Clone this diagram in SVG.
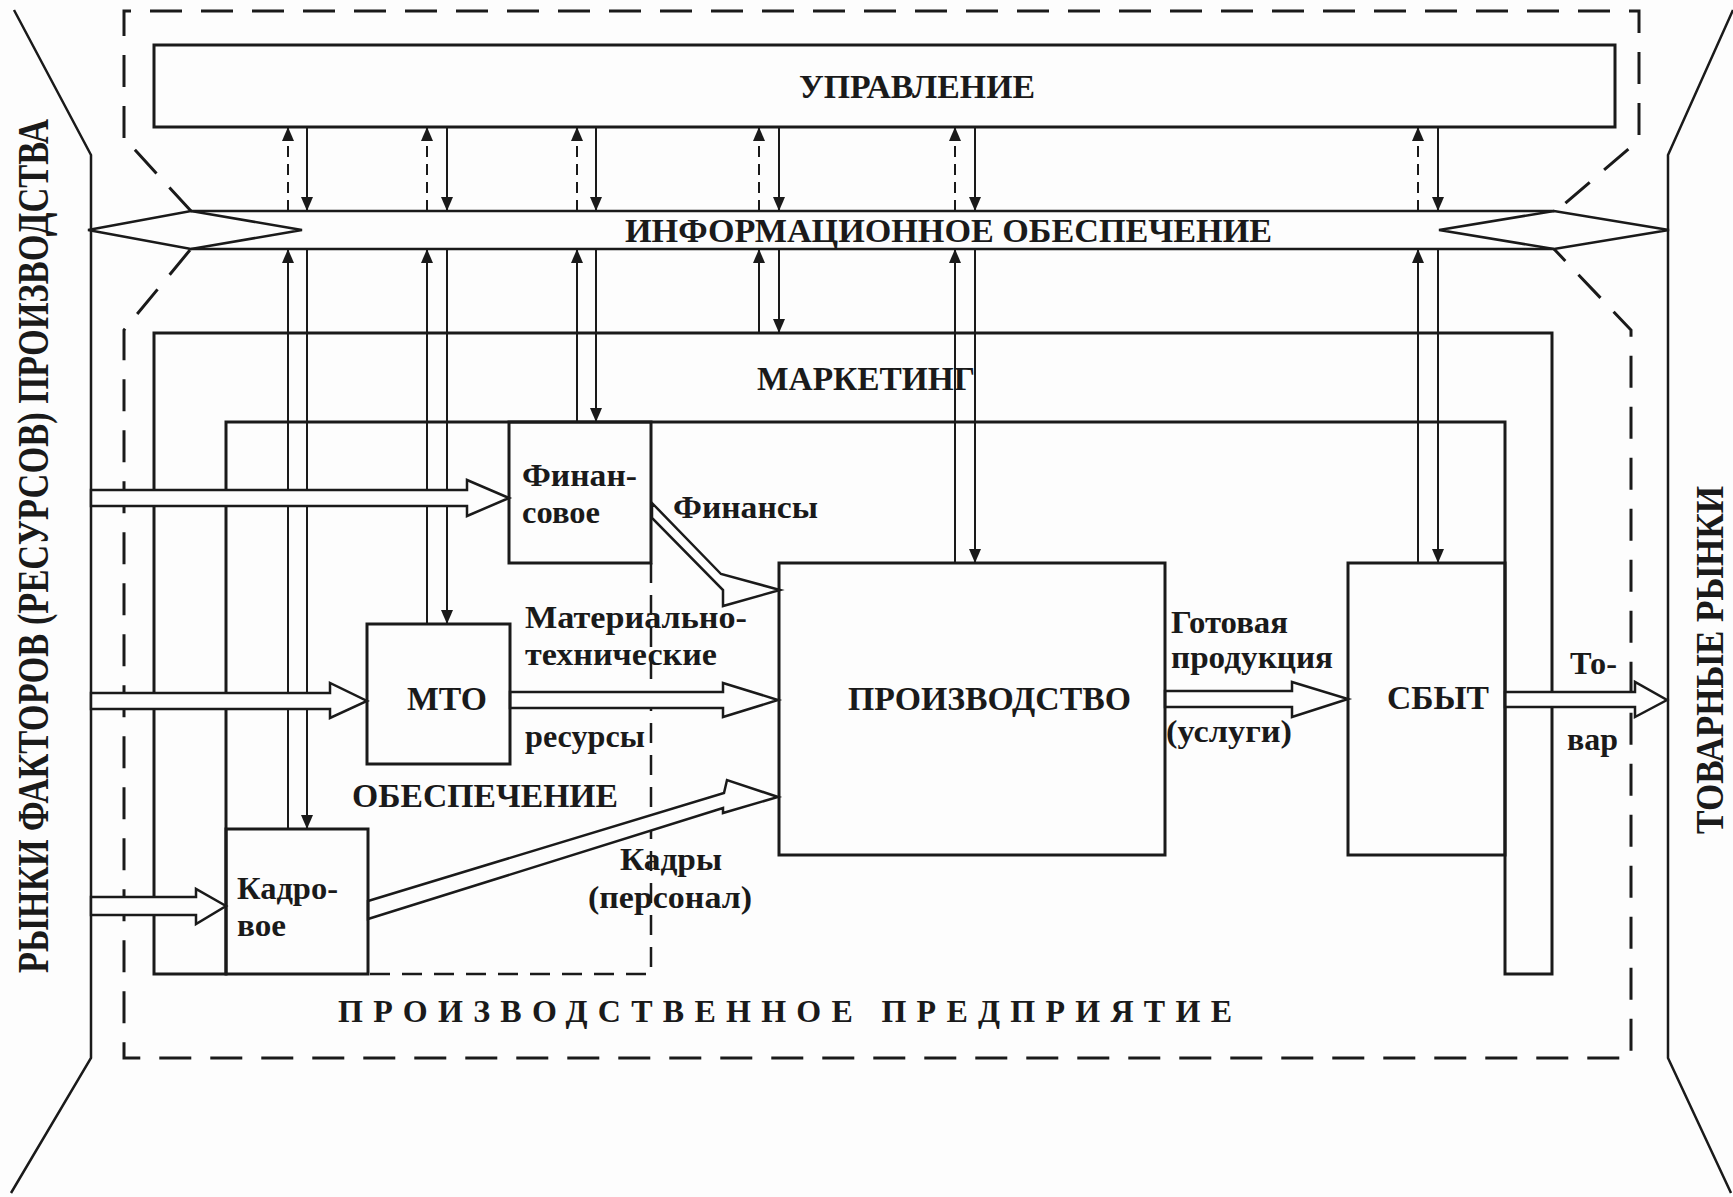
<svg xmlns="http://www.w3.org/2000/svg" width="1733" height="1197" viewBox="0 0 1733 1197">
<style>
.t{font-family:"Liberation Serif","Times New Roman",serif;font-weight:bold;fill:#1a1a1a}
.big{font-size:34px}
.sm{font-size:31px}
.box{fill:none;stroke:#1a1a1a;stroke-width:3}
.ln{fill:none;stroke:#1a1a1a;stroke-width:2.5}
.thin{fill:none;stroke:#1a1a1a;stroke-width:2}
.dashO{fill:none;stroke:#1a1a1a;stroke-width:3;stroke-dasharray:32 19}
.dashI{fill:none;stroke:#1a1a1a;stroke-width:2.5;stroke-dasharray:20 12}
.dashS{fill:none;stroke:#1a1a1a;stroke-width:2;stroke-dasharray:11 7}
.harrow{fill:#fdfdfd;stroke:#1a1a1a;stroke-width:2.5;stroke-linejoin:miter}
</style>
<defs>
<marker id="ah" markerWidth="14" markerHeight="12" refX="14" refY="6" orient="auto" markerUnits="userSpaceOnUse">
<path d="M0,0 L14,6 L0,12 z" fill="#1a1a1a"/>
</marker>
</defs>
<rect x="0" y="0" width="1733" height="1197" fill="#fdfdfd"/>

<g id="markets">
<polyline class="ln" points="14,10 91,155 91,1058 11,1193"/>
<polyline class="ln" points="1733,10 1668,155 1668,1058 1731,1193"/>
<text class="t" font-size="34" textLength="854" lengthAdjust="spacingAndGlyphs" transform="translate(48,973) rotate(-90) scale(1,1.3)">РЫНКИ ФАКТОРОВ (РЕСУРСОВ) ПРОИЗВОДСТВА</text>
<text class="t" font-size="34" textLength="348" lengthAdjust="spacingAndGlyphs" transform="translate(1723,834) rotate(-90) scale(1,1.2)">ТОВАРНЫЕ РЫНКИ</text>
</g>

<g id="enterprise">
<path class="dashO" d="M124,138 L124,11 L1639,11 L1639,140 L1554,213"/>
<path class="dashO" d="M191,211 L124,138"/>
<path class="dashO" d="M190,250 L124,330 L124,1058 L1631,1058 L1631,330 L1554,249"/>
<text class="t" font-size="32" x="338" y="1022" textLength="894" lengthAdjust="spacing">ПРОИЗВОДСТВЕННОЕ ПРЕДПРИЯТИЕ</text>
</g>

<g id="upravlenie">
<rect class="box" x="154" y="45" width="1461" height="82"/>
<text class="t big" x="799" y="98" textLength="236" lengthAdjust="spacingAndGlyphs">УПРАВЛЕНИЕ</text>
</g>

<g id="marketing">
<path class="box" d="M154,974 L154,333 L1552,333 L1552,974 L1505,974 L1505,422 L226,422 L226,974 Z"/>
<text class="t big" x="757" y="390" textLength="218" lengthAdjust="spacingAndGlyphs">МАРКЕТИНГ</text>
</g>

<g id="obespechenie">
<path class="dashI" d="M651,563 L651,974 L368,974"/>
<text class="t big" x="352" y="807" textLength="266" lengthAdjust="spacingAndGlyphs">ОБЕСПЕЧЕНИЕ</text>
</g>

<g id="connectors">
<g class="dashS" marker-end="url(#ah)">
<line x1="288" y1="211" x2="288" y2="127"/>
<line x1="427" y1="211" x2="427" y2="127"/>
<line x1="577" y1="211" x2="577" y2="127"/>
<line x1="759" y1="211" x2="759" y2="127"/>
<line x1="955" y1="211" x2="955" y2="127"/>
<line x1="1418" y1="211" x2="1418" y2="127"/>
</g>
<g class="thin" marker-end="url(#ah)">
<line x1="307" y1="127" x2="307" y2="211"/>
<line x1="447" y1="127" x2="447" y2="211"/>
<line x1="596" y1="127" x2="596" y2="211"/>
<line x1="779" y1="127" x2="779" y2="211"/>
<line x1="975" y1="127" x2="975" y2="211"/>
<line x1="1438" y1="127" x2="1438" y2="211"/>
<line x1="288" y1="829" x2="288" y2="249"/>
<line x1="427" y1="624" x2="427" y2="249"/>
<line x1="577" y1="422" x2="577" y2="249"/>
<line x1="759" y1="333" x2="759" y2="249"/>
<line x1="955" y1="563" x2="955" y2="249"/>
<line x1="1418" y1="563" x2="1418" y2="249"/>
<line x1="307" y1="249" x2="307" y2="829"/>
<line x1="447" y1="249" x2="447" y2="624"/>
<line x1="596" y1="249" x2="596" y2="422"/>
<line x1="779" y1="249" x2="779" y2="333"/>
<line x1="975" y1="249" x2="975" y2="563"/>
<line x1="1438" y1="249" x2="1438" y2="563"/>
</g>
<polygon class="harrow" points="91,490 467,490 467,480 509,498 467,516 467,506 91,506"/>
<polygon class="harrow" points="91,693 330,693 330,683 367,701 330,718 330,709 91,709"/>
<polygon class="harrow" points="91,897 196,897 196,889 226,906 196,924 196,915 91,915"/>
<polygon class="harrow" points="652,503 721,574 780,590 723,606 723,590 652,518"/>
<polygon class="harrow" points="510,692 723,692 723,683 778,700 723,717 723,708 510,708"/>
<polygon class="harrow" points="368,901 724,793 727,780 778,797 723,813 723,808 368,919"/>
<polygon class="harrow" points="1165,691 1292,691 1292,682 1348,699 1292,717 1292,707 1165,707"/>
<polygon class="harrow" points="1505,692 1635,692 1635,682 1667,700 1635,717 1635,707 1505,707"/>
</g>

<g id="info">
<line class="ln" x1="191" y1="211" x2="1554" y2="211"/>
<line class="ln" x1="191" y1="249" x2="1554" y2="249"/>
<polygon class="ln" points="88,230 191,211 302,230 191,249"/>
<polygon class="ln" points="1439,230 1554,211 1669,230 1554,249"/>
<text class="t big" x="625" y="242" textLength="647" lengthAdjust="spacingAndGlyphs">ИНФОРМАЦИОННОЕ ОБЕСПЕЧЕНИЕ</text>
</g>

<g id="finansovoe">
<rect class="box" x="509" y="422" width="142" height="141"/>
<text class="t sm" x="522" y="486" textLength="115" lengthAdjust="spacingAndGlyphs">Финан-</text>
<text class="t sm" x="522" y="523" textLength="78" lengthAdjust="spacingAndGlyphs">совое</text>
</g>

<g id="mto">
<rect class="box" x="367" y="624" width="143" height="140"/>
<text class="t big" x="407" y="710" textLength="80" lengthAdjust="spacingAndGlyphs">МТО</text>
</g>

<g id="kadrovoe">
<rect class="box" x="226" y="829" width="142" height="145"/>
<text class="t sm" x="237" y="899" textLength="101" lengthAdjust="spacingAndGlyphs">Кадро-</text>
<text class="t sm" x="237" y="936" textLength="49" lengthAdjust="spacingAndGlyphs">вое</text>
</g>

<g id="proizvodstvo">
<rect class="box" x="779" y="563" width="386" height="292"/>
<text class="t big" x="848" y="710" textLength="283" lengthAdjust="spacingAndGlyphs">ПРОИЗВОДСТВО</text>
</g>

<g id="sbyt">
<rect class="box" x="1348" y="563" width="157" height="292"/>
<text class="t big" x="1387" y="709" textLength="102" lengthAdjust="spacingAndGlyphs">СБЫТ</text>
</g>

<g id="labels">
<text class="t sm" x="673" y="518" textLength="145" lengthAdjust="spacingAndGlyphs">Финансы</text>
<text class="t sm" x="525" y="628" textLength="222" lengthAdjust="spacingAndGlyphs">Материально-</text>
<text class="t sm" x="525" y="665" textLength="192" lengthAdjust="spacingAndGlyphs">технические</text>
<text class="t sm" x="525" y="747" textLength="120" lengthAdjust="spacingAndGlyphs">ресурсы</text>
<text class="t sm" x="620" y="870" textLength="102" lengthAdjust="spacingAndGlyphs">Кадры</text>
<text class="t sm" x="588" y="908" textLength="164" lengthAdjust="spacingAndGlyphs">(персонал)</text>
<text class="t sm" x="1171" y="633" textLength="117" lengthAdjust="spacingAndGlyphs">Готовая</text>
<text class="t sm" x="1171" y="668" textLength="162" lengthAdjust="spacingAndGlyphs">продукция</text>
<text class="t sm" x="1166" y="742" textLength="126" lengthAdjust="spacingAndGlyphs">(услуги)</text>
<text class="t sm" x="1570" y="674" textLength="47" lengthAdjust="spacingAndGlyphs">То-</text>
<text class="t sm" x="1567" y="750" textLength="51" lengthAdjust="spacingAndGlyphs">вар</text>
</g>
</svg>
